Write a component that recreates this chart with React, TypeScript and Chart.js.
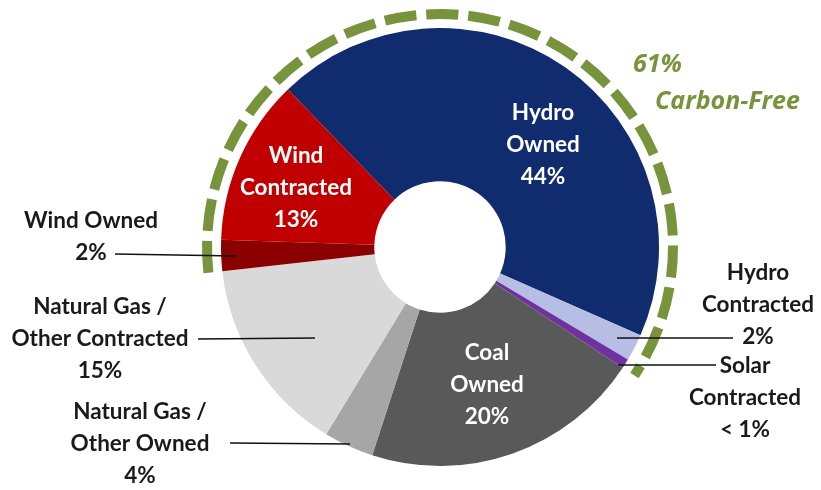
import React, { useEffect, useRef } from "react";
import { Chart, registerables } from "chart.js";

Chart.register(...registerables);

const categories = [
  "Hydro Owned",
  "Hydro Contracted",
  "Solar Contracted",
  "Coal Owned",
  "Natural Gas / Other Owned",
  "Natural Gas / Other Contracted",
  "Wind Owned",
  "Wind Contracted",
];
const shares = [44, 2, 0.7, 20.8, 3.7, 14.6, 2.3, 12.3];
const shareLabels = ["44%", "2%", "< 1%", "20%", "4%", "15%", "2%", "13%"];
const colors = ["#102c6e", "#b6bfe3", "#7030a0", "#595959", "#a6a6a6", "#d9d9d9", "#8b0000", "#c00000"];
const carbonFreeLabel = ["61%", "Carbon-Free"];
// indices of carbon-free slices: wind owned (6) .. solar (2) wrapping over the top
const carbonFreeFirst = 6;
const carbonFreeLast = 2;

const FONT = "bold 22.5px Lato, 'Open Sans', sans-serif";

// label layout (annotation positions)
const labelLayout = [
  { i: 0, lines: ["Hydro", "Owned"], x: 543, y: 113, color: "#ffffff" },
  { i: 7, lines: ["Wind", "Contracted"], x: 296, y: 156, color: "#ffffff" },
  { i: 3, lines: ["Coal", "Owned"], x: 487, y: 353, color: "#ffffff" },
  { i: 6, lines: ["Wind Owned"], x: 91, y: 221, color: "#1a1a1a" },
  { i: 5, lines: ["Natural Gas /", "Other Contracted"], x: 100, y: 307, color: "#1a1a1a" },
  { i: 4, lines: ["Natural Gas /", "Other Owned"], x: 140, y: 412, color: "#1a1a1a" },
  { i: 1, lines: ["Hydro", "Contracted"], x: 758, y: 273, color: "#1a1a1a" },
  { i: 2, lines: ["Solar", "Contracted"], x: 745, y: 366, color: "#1a1a1a" },
];
const leaderLines = [
  [115, 254, 237, 256],
  [198, 339, 315, 338],
  [230, 443, 350, 444],
  [617, 338, 733, 338],
  [618, 365, 716, 365],
];

const overlayPlugin = {
  id: "overlay",
  afterDraw(chart: any) {
    const ctx = chart.ctx;
    const meta = chart.getDatasetMeta(0);
    const first = meta.data[carbonFreeFirst];
    const last = meta.data[carbonFreeLast];
    const cx = first.x;
    const cy = first.y;
    const r = first.outerRadius + 14;
    let a = first.startAngle;
    let b = last.endAngle;
    while (b < a) b += Math.PI * 2;
    ctx.save();
    ctx.strokeStyle = "#77933c";
    ctx.lineWidth = 10;
    ctx.lineCap = "butt";
    ctx.setLineDash([32, 10]);
    ctx.beginPath();
    ctx.arc(cx, cy, r, a, b);
    ctx.stroke();
    ctx.setLineDash([]);

    ctx.strokeStyle = "#111111";
    ctx.lineWidth = 1.5;
    for (const [x1, y1, x2, y2] of leaderLines) {
      ctx.beginPath();
      ctx.moveTo(x1, y1);
      ctx.lineTo(x2, y2);
      ctx.stroke();
    }

    ctx.font = FONT;
    ctx.textAlign = "center";
    ctx.textBaseline = "middle";
    const lh = 32;
    for (const l of labelLayout) {
      ctx.fillStyle = l.color;
      const lines = [...l.lines, shareLabels[l.i]];
      lines.forEach((t, k) => ctx.fillText(t, l.x, l.y + k * lh));
    }

    ctx.fillStyle = "#77933c";
    ctx.font = "italic bold 25px 'Open Sans', Lato, sans-serif";
    ctx.textAlign = "left";
    ctx.fillText(carbonFreeLabel[0], 633, 65);
    ctx.fillText(carbonFreeLabel[1], 655, 102);
    ctx.restore();
  },
};

export default function App() {
  const ref = useRef<HTMLCanvasElement>(null);
  useEffect(() => {
    document.body.style.margin = "0";
    const chart = new Chart(ref.current!, {
      type: "doughnut",
      data: {
        labels: categories,
        datasets: [
          {
            data: shares,
            backgroundColor: colors,
            borderWidth: 0,
            hoverOffset: 0,
          },
        ],
      },
      options: {
        animation: false,
        responsive: false,
        maintainAspectRatio: false,
        rotation: -44,
        cutout: "30%",
        layout: { padding: { left: 221, right: 162, top: 28, bottom: 24 } },
        plugins: { legend: { display: false }, tooltip: { enabled: false } },
      },
      plugins: [overlayPlugin],
    });
    return () => chart.destroy();
  }, []);
  return <canvas ref={ref} width={821} height={490} style={{ display: "block" }} />;
}
